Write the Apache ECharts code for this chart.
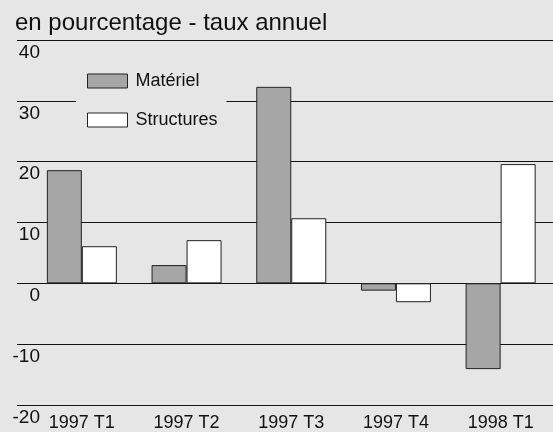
<!DOCTYPE html>
<html>
<head>
<meta charset="utf-8">
<script src="https://cdn.jsdelivr.net/npm/echarts@6/dist/echarts.min.js"></script>
<style>
html, body { margin: 0; padding: 0; background: #e6e6e6; }
#chart { width: 553px; height: 432px; }
</style>
</head>
<body>
<div id="chart"></div>
<script>
// Données
var categories = ['1997 T1', '1997 T2', '1997 T3', '1997 T4', '1998 T1'];
var materiel = [18.6, 3.0, 32.3, -1.2, -14.1];
var structures = [6.1, 7.1, 10.7, -3.1, 19.6];
var yMin = -20, yMax = 40, yStep = 10;

var font = 'Liberation Sans, Arial, sans-serif';
var chart = echarts.init(document.getElementById('chart'));

var option = {
    backgroundColor: '#e6e6e6',
    animation: false,
    title: {
        text: 'en pourcentage - taux annuel',
        left: 10,
        top: 6,
        textStyle: { fontFamily: font, fontSize: 24, fontWeight: 'normal', color: '#111' }
    },
    legend: {
        orient: 'vertical',
        left: 76,
        top: 66,
        padding: [6, 9, 6, 11],
        backgroundColor: '#e6e6e6',
        itemWidth: 40,
        itemHeight: 14,
        itemGap: 21,
        textStyle: { fontFamily: font, fontSize: 18, color: '#111', padding: [0, 0, 0, 3] },
        data: [
            { name: 'Matériel', icon: 'rect', itemStyle: { color: '#a6a6a6', borderColor: '#222', borderWidth: 1 } },
            { name: 'Structures', icon: 'rect', itemStyle: { color: '#fff', borderColor: '#222', borderWidth: 1 } }
        ]
    },
    grid: [
        { left: 29.5, width: 526, top: 40, bottom: 27 },   // barres
        { left: 17, right: 0, top: 40, bottom: 27 }        // lignes de grille
    ],
    xAxis: [
        {
            type: 'category',
            gridIndex: 0,
            data: categories,
            axisLine: { show: false },
            axisTick: { show: false },
            axisLabel: { fontFamily: font, fontSize: 18, color: '#111', margin: 9 }
        },
        { type: 'value', gridIndex: 1, show: false }
    ],
    yAxis: [
        { type: 'value', gridIndex: 0, min: yMin, max: yMax, interval: yStep, show: false },
        {
            type: 'value',
            gridIndex: 1,
            min: yMin,
            max: yMax,
            interval: yStep,
            axisLine: { show: false },
            axisTick: { show: false },
            splitLine: { lineStyle: { color: '#111', width: 1.2 } },
            axisLabel: {
                inside: true,
                align: 'right',
                verticalAlign: 'top',
                margin: 23,
                padding: [3, 0, 0, 0],
                fontFamily: font,
                fontSize: 19,
                color: '#111'
            }
        }
    ],
    series: [
        {
            name: 'Matériel',
            type: 'bar',
            xAxisIndex: 0,
            yAxisIndex: 0,
            data: materiel,
            barWidth: 35,
            barGap: '0%',
            itemStyle: { color: '#a6a6a6', borderColor: '#222', borderWidth: 1 },
            z: 3
        },
        {
            name: 'Structures',
            type: 'bar',
            xAxisIndex: 0,
            yAxisIndex: 0,
            data: structures,
            barWidth: 35,
            barGap: '0%',
            itemStyle: { color: '#ffffff', borderColor: '#222', borderWidth: 1 },
            z: 3
        }
    ]
};

chart.setOption(option);
</script>
</body>
</html>
